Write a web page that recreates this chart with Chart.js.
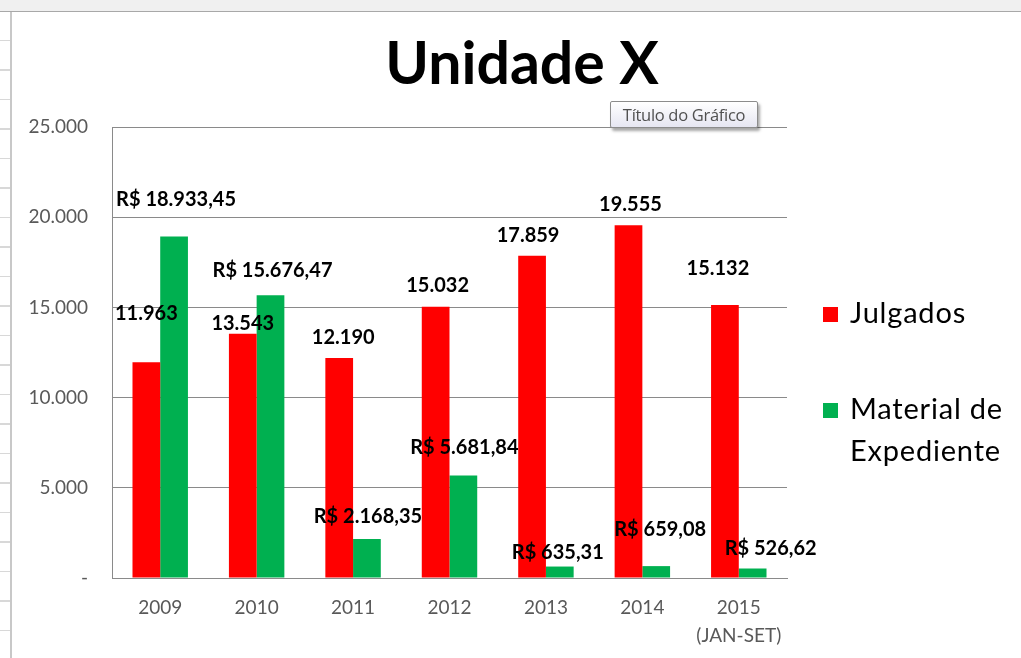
<!DOCTYPE html>
<html>
<head>
<meta charset="utf-8">
<script src="https://cdn.jsdelivr.net/npm/chart.js@4/dist/chart.umd.min.js"></script>
<style>
  html, body { margin: 0; padding: 0; background: #fff; overflow: hidden; }
  #wrap { position: relative; width: 1021px; height: 658px; }
  #topbar { position: absolute; left: 0; top: 0; width: 1021px; height: 11px; background: #f0f0f0; border-bottom: 1px solid #a8a8a8; }
  #leftbar { position: absolute; left: 0; top: 12px; width: 10px; height: 646px; border-right: 2px solid #c8c8c8;
    background: repeating-linear-gradient(to bottom, transparent 0, transparent 28px, #d8d8d8 28px, #d8d8d8 29.5px); }
  #tip { position: absolute; left: 610px; top: 101px; width: 146px; height: 25px; border: 1px solid #8c8c8c; border-radius: 2px;
    background: linear-gradient(#ffffff, #e6e6f2); box-shadow: 2px 3px 3px rgba(0,0,0,0.35);
    font: 16.5px "Open Sans", sans-serif; letter-spacing: -0.3px; color: #505050; line-height: 25px; text-align: center; }
  canvas { position: absolute; left: 0; top: 0; }
</style>
</head>
<body>
<div id="wrap">
  <canvas id="chart" width="1021" height="658"></canvas>
  <div id="topbar"></div>
  <div id="leftbar"></div>
  <div id="tip">Título do Gráfico</div>
</div>
<script>
// Data
var chartTitle = 'Unidade X';
var years = ['2009', '2010', '2011', '2012', '2013', '2014', ['2015', '(JAN-SET)']];
var julgados = [11963, 13543, 12190, 15032, 17859, 19555, 15132];
var material = [18933.45, 15676.47, 2168.35, 5681.84, 635.31, 659.08, 526.62];
var yTicks = [0, 5000, 10000, 15000, 20000, 25000];

// where Excel left each data label relative to the top of its bar (px)
var julgadosLabelShift = [[0, -49], [0, -10], [4, -21], [2, -21], [-4, -20], [2, -21], [-7, -36]];
var materialLabelShift = [[2, -37], [2, -25], [1, -22], [1, -28], [-2, -14], [4, -37], [18, -20]];

function thousands(n) {
  return String(Math.round(n)).replace(/\B(?=(\d{3})+(?!\d))/g, '.');
}
function reais(n) {
  var parts = n.toFixed(2).split('.');
  return 'R$ ' + thousands(Number(parts[0])) + ',' + parts[1];
}

var labelFont = 'bold 20px Lato';

// title sits over the whole chart object, legend included
var bigTitle = {
  id: 'bigTitle',
  afterDraw: function(chart) {
    var ctx = chart.ctx;
    ctx.save();
    ctx.font = 'bold 59px Lato';
    ctx.fillStyle = '#000';
    ctx.textAlign = 'center';
    ctx.textBaseline = 'middle';
    ctx.fillText(chartTitle, 522, 65);
    ctx.restore();
  }
};

// draws the data labels over the bars, like the Excel chart
var barLabels = {
  id: 'barLabels',
  afterDatasetsDraw: function(chart) {
    var ctx = chart.ctx;
    ctx.save();
    ctx.font = labelFont;
    ctx.fillStyle = '#000';
    ctx.textAlign = 'center';
    ctx.textBaseline = 'middle';
    chart.getDatasetMeta(0).data.forEach(function(bar, i) {
      var s = julgadosLabelShift[i];
      ctx.fillText(thousands(julgados[i]), bar.x + s[0], bar.y + s[1]);
    });
    chart.getDatasetMeta(1).data.forEach(function(bar, i) {
      var s = materialLabelShift[i];
      ctx.fillText(reais(material[i]), bar.x + s[0], bar.y + s[1]);
    });
    ctx.restore();
  }
};

// legend on the right, with the long name on two lines
var sideLegend = {
  id: 'sideLegend',
  afterDraw: function(chart) {
    var ctx = chart.ctx;
    var rows = [
      { color: chart.data.datasets[0].backgroundColor, lines: ['Julgados'], y: 314 },
      { color: chart.data.datasets[1].backgroundColor, lines: ['Material de', 'Expediente'], y: 410 }
    ];
    ctx.save();
    ctx.font = '29px Lato';
    ctx.letterSpacing = '0.8px';
    ctx.textBaseline = 'middle';
    ctx.textAlign = 'left';
    rows.forEach(function(r) {
      ctx.fillStyle = r.color;
      ctx.fillRect(823, r.y - 7, 15, 15);
      ctx.fillStyle = '#000';
      r.lines.forEach(function(t, k) {
        ctx.fillText(t, 850, r.y + k * 42);
      });
    });
    ctx.restore();
  }
};

var ctx = document.getElementById('chart').getContext('2d');

var chart = new Chart(ctx, {
  type: 'bar',
  data: {
    labels: years,
    datasets: [
      { label: 'Julgados', data: julgados, backgroundColor: '#ff0000', barPercentage: 1, categoryPercentage: 0.575 },
      { label: 'Material de Expediente', data: material, backgroundColor: '#00b050', barPercentage: 1, categoryPercentage: 0.575 }
    ]
  },
  options: {
    responsive: false,
    animation: false,
    layout: { padding: { top: 127, right: 234, bottom: 0, left: 0 } },
    plugins: {
      legend: { display: false },
      tooltip: { enabled: false },
      title: { display: false }
    },
    scales: {
      x: {
        grid: { display: false, drawTicks: false },
        border: { color: '#8a8a8a', width: 1 },
        ticks: { color: '#595959', font: { family: 'Lato', size: 19, lineHeight: '28px' }, padding: 16, maxRotation: 0 },
        afterFit: function(scale) { scale.height = 80; }
      },
      y: {
        min: 0,
        max: 25000,
        afterBuildTicks: function(scale) {
          scale.ticks = yTicks.map(function(v) { return { value: v }; });
        },
        grid: { color: '#8a8a8a', drawTicks: false },
        border: { color: '#8a8a8a', width: 1 },
        ticks: {
          color: '#595959',
          font: { family: 'Lato', size: 19 },
          padding: 24,
          callback: function(v) { return v === 0 ? '-' : thousands(v); }
        },
        afterFit: function(scale) { scale.width = 112; }
      }
    }
  },
  plugins: [barLabels, sideLegend, bigTitle]
});
</script>
</body>
</html>
